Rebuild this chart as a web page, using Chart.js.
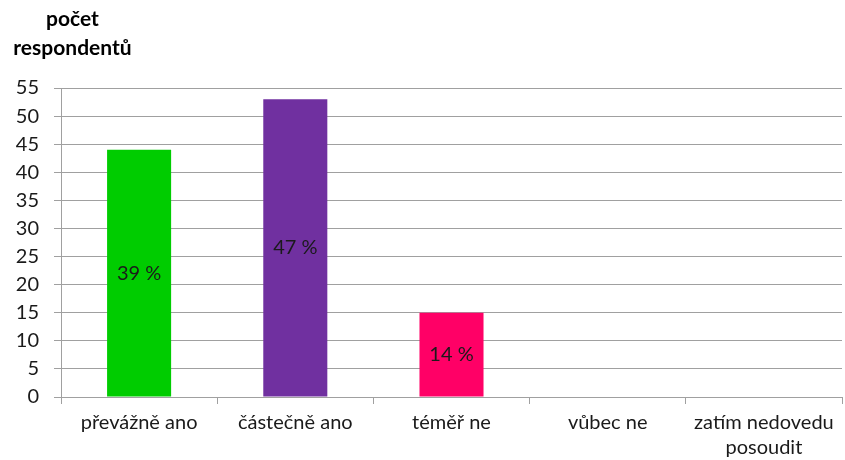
<!DOCTYPE html>
<html>
<head>
<meta charset="utf-8">
<script src="https://cdn.jsdelivr.net/npm/chart.js@4.4.0/dist/chart.umd.min.js"></script>
<style>
    html, body { margin: 0; padding: 0; background: #fff; }
    #wrap { position: relative; width: 845px; height: 460px; }
    #axisTitle {
        position: absolute; left: 2px; top: 3px; width: 141px;
        text-align: center; font: bold 21px Lato, "Open Sans", sans-serif;
        color: #000; line-height: 29px;
    }
</style>
</head>
<body>
<div id="wrap">
    <div id="axisTitle">počet<br>respondentů</div>
    <canvas id="chart" width="845" height="460"></canvas>
</div>
<script>
const categories = ["převážně ano", "částečně ano", "téměř ne", "vůbec ne", ["zatím nedovedu", "posoudit"]];
const counts = [44, 53, 15, 0, 0];
const shares = [39, 47, 14, null, null];
const barColors = ["#00cc00", "#7030a0", "#ff0066", "#999999", "#999999"];

const fontFamily = "Lato, 'Open Sans', sans-serif";

// draws the percentage label in the middle of each bar
const shareLabels = {
    id: "shareLabels",
    afterDatasetsDraw(chart) {
        const ctx = chart.ctx;
        const meta = chart.getDatasetMeta(0);
        ctx.save();
        ctx.font = "20px " + fontFamily;
        ctx.fillStyle = "#1a1a1a";
        ctx.textAlign = "center";
        ctx.textBaseline = "middle";
        meta.data.forEach((bar, i) => {
            if (shares[i] == null) return;
            ctx.fillText(shares[i] + " %", bar.x, (bar.y + bar.base) / 2);
        });
        ctx.restore();
    }
};

new Chart(document.getElementById("chart"), {
    type: "bar",
    data: {
        labels: categories,
        datasets: [{
            data: counts,
            backgroundColor: barColors,
            categoryPercentage: 1,
            barPercentage: 0.41
        }]
    },
    options: {
        responsive: false,
        animation: false,
        layout: { padding: { top: 88, right: 3, left: 0, bottom: 0 } },
        plugins: { legend: { display: false }, tooltip: { enabled: false } },
        scales: {
            x: {
                grid: { display: true, drawOnChartArea: false, offset: true, color: "#a0a0a0", tickLength: 7 },
                border: { color: "#a0a0a0" },
                ticks: { color: "#1a1a1a", font: { family: fontFamily, size: 20, lineHeight: 1.25 }, padding: 6, maxRotation: 0 },
                afterFit(scale) { scale.height = 63; }
            },
            y: {
                min: 0, max: 55,
                grid: { color: "#a0a0a0", tickLength: 7 },
                border: { color: "#a0a0a0" },
                ticks: { stepSize: 5, color: "#1a1a1a", font: { family: fontFamily, size: 20 }, padding: 15 },
                afterFit(scale) { scale.width = 61; }
            }
        }
    },
    plugins: [shareLabels]
});
</script>
</body>
</html>
